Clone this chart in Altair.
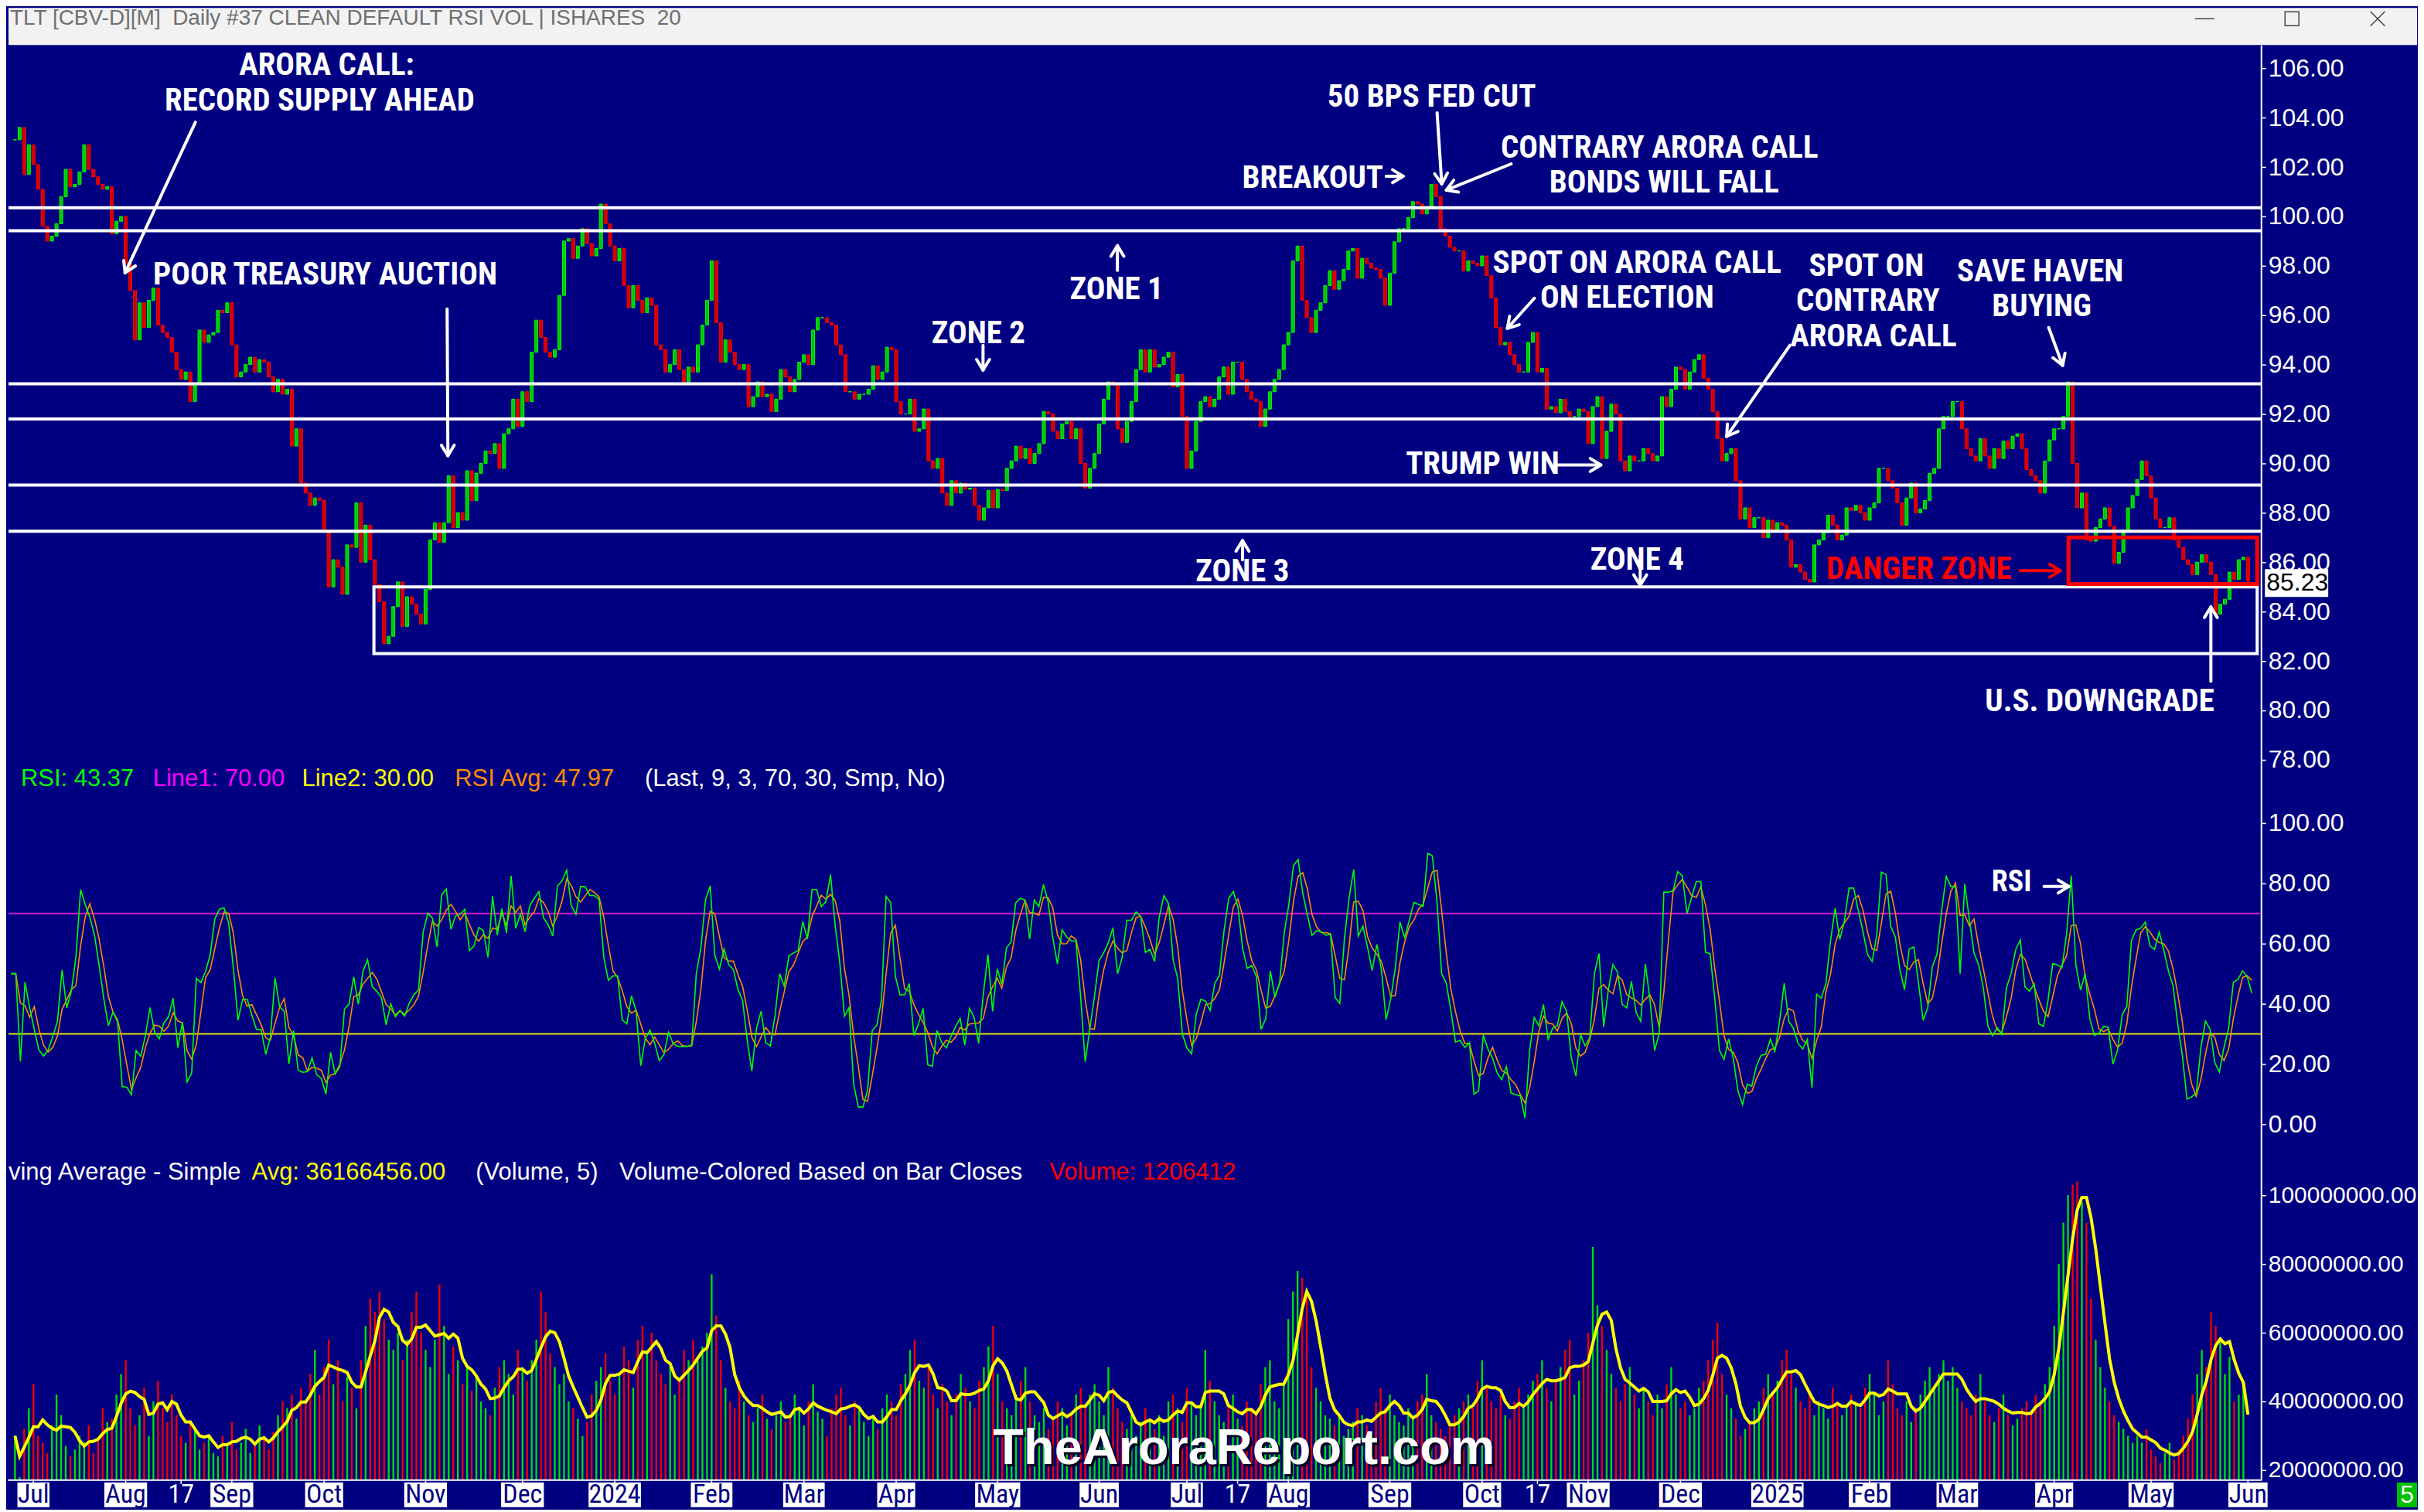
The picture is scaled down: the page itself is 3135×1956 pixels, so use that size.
import math
import numpy as np
import pandas as pd
import altair as alt

# ---------------- data ----------------
# daily closes, Jun 30 2023 .. Jun 5 2025
closes_2023 = [
    103.1, 103.6, 101.7, 102.9, 102.1, 101.1, 99.6, 99.0, 99.2, 99.7,
    100.8, 101.9, 101.2, 101.3, 101.8, 102.9, 101.9, 101.6, 101.3, 101.1,
    101.2, 99.3, 99.8, 100.0, 98.1, 97.0, 95.0, 96.5, 95.5, 96.6,
    97.1, 95.6, 95.3, 95.1, 94.5, 93.8, 93.4, 93.7, 92.5, 93.2,
    95.4, 94.9, 95.2, 95.3, 96.2, 96.1, 96.5, 94.8, 93.5, 93.7,
    94.0, 94.3, 93.7, 94.2, 94.1, 93.5, 92.9, 93.4, 92.8, 93.0,
    90.7, 91.4, 89.2, 88.8, 88.3, 88.6, 88.5, 87.3, 85.0, 86.1,
    85.8, 84.7, 86.7, 86.6, 88.4, 86.0, 87.5, 86.1, 85.1, 84.4,
    82.7, 83.0, 84.2, 85.2, 83.4, 84.6, 84.3, 83.9, 83.5, 84.9,
    86.9, 87.6, 86.8, 87.6, 89.5, 87.4, 88.0, 87.7, 89.7, 88.5,
    89.6, 90.0, 90.5, 90.4, 90.8, 89.8, 91.2, 91.4, 92.6, 91.5,
    92.9, 92.5, 94.5, 95.8, 95.1, 94.5, 94.3, 94.6, 96.8, 99.0,
    99.1, 98.3, 98.8, 99.5, 98.9, 98.4, 98.7, 100.5, 99.7, 98.8,
    98.2, 98.7, 97.2, 96.3, 97.2, 96.6, 96.1, 96.7, 96.4, 94.8,
    94.6, 93.7, 94.0, 94.6, 93.8, 93.3, 93.9, 93.7, 94.8, 95.6,
    96.6, 98.2]
closes_2024 = [
    95.7, 94.1, 95.0, 94.5, 94.0, 93.8, 94.0, 92.3, 92.7, 93.3,
    92.7, 92.8, 92.1, 92.6, 93.8, 93.5, 92.9, 93.4, 94.1, 94.4,
    94.0, 95.4, 95.9, 95.9, 95.7, 95.6, 94.8, 94.4, 92.9, 92.9,
    92.6, 92.8, 92.8, 93.0, 93.95, 93.4, 93.7, 94.7, 94.6, 92.5,
    92.0, 92.0, 92.6, 91.3, 91.4, 92.2, 90.1, 89.8, 90.2, 88.8,
    88.3, 89.3, 88.8, 89.2, 88.95, 89.0, 88.3, 87.7, 88.2, 88.9,
    88.2, 88.95, 88.9, 89.8, 90.1, 90.7, 90.2, 90.6, 90.0, 90.4,
    90.8, 92.1, 92.0, 91.3, 91.0, 91.6, 91.7, 91.0, 91.4, 90.0,
    89.0, 89.8, 90.4, 91.6, 92.6, 93.3, 93.2, 91.4, 90.85, 91.7,
    92.5, 93.8, 94.6, 93.7, 94.6, 93.9, 94.0, 94.3, 94.5, 93.1,
    93.6, 91.9, 89.8, 90.5, 91.7, 92.5, 92.7, 92.3, 92.6, 93.5,
    93.9, 92.8, 94.1, 94.1, 93.4, 92.9, 92.6, 92.5, 91.5, 92.2,
    92.9, 93.4, 93.8, 94.8, 95.3, 98.2, 98.8, 96.6, 95.9, 95.3,
    96.2, 96.5, 97.2, 97.8, 97.05, 97.4, 97.85, 98.6, 98.7, 97.5,
    98.3, 98.1, 97.9, 97.85, 97.5, 96.4, 97.7, 98.97, 99.5, 99.5,
    99.95, 100.6, 100.5, 100.1, 100.4, 101.3, 100.8, 99.5, 99.2, 98.75,
    98.6, 98.6, 97.8]
closes_2025 = [
    98.2, 98.1, 98.0, 98.4, 97.6, 96.7, 95.5, 94.8, 94.9, 94.4,
    94.0, 93.7, 93.7, 94.9, 95.3, 93.7, 93.85, 92.2, 92.3, 92.05,
    92.6, 92.1, 91.9, 91.9, 92.2, 92.1, 90.8, 92.3, 92.7, 90.2,
    91.3, 92.4, 92.0, 90.1, 89.7, 90.3, 90.1, 90.1, 90.6, 90.4,
    90.1, 90.3, 92.7, 92.3, 93.0, 93.9, 93.8, 93.0, 93.7, 94.2,
    94.4, 93.45, 93.0, 92.1, 91.0, 90.1, 90.4, 90.6, 89.3, 87.75,
    88.2, 87.4, 87.8, 87.8, 87.0, 87.7, 87.3, 87.6, 87.5, 86.9,
    85.8, 85.9, 85.6, 85.3, 85.2, 86.7, 86.9, 87.2, 87.9, 87.5,
    86.9, 87.1, 88.2, 88.1, 88.3, 88.0, 87.7, 88.2, 88.4, 89.8,
    89.8, 89.3, 89.0, 88.4, 87.5, 88.6, 89.2, 88.0, 88.15, 88.5,
    89.6, 89.8, 91.4, 91.9, 91.9, 92.5, 92.5, 91.4, 90.6, 90.3,
    90.1, 91.0, 90.3, 89.8, 90.6, 90.2, 90.9, 90.6, 91.1, 91.2,
    90.6, 89.75, 89.5, 89.3, 88.8, 90.1, 90.95, 91.4, 91.4, 91.9,
    93.3, 90.0, 88.2, 88.8, 86.9, 86.85, 87.4, 87.75, 88.2, 87.45,
    85.95, 86.4, 87.3, 88.2, 88.7, 89.35, 90.1, 89.5, 88.6, 87.75,
    87.4, 87.4, 87.8, 86.9, 86.6, 86.1, 85.9, 85.5, 86.0, 86.3,
    86.0, 85.5, 83.9, 84.3, 84.5, 85.6, 85.3, 86.1, 86.2, 85.23]

# daily volume in millions, one list per month
vol_jun23 = [30]
vol_jul23 = [18, 32, 38, 45, 30, 28, 25, 33, 42, 36, 27, 24, 26, 30, 28, 33, 25, 29, 38, 34]
vol_aug23 = [35, 42, 48, 52, 38, 33, 36, 44, 30, 40, 46, 38, 34, 42, 36, 30, 28, 34, 32, 26, 28, 30, 25]
vol_sep23 = [24, 30, 28, 34, 26, 28, 32, 25, 27, 33, 30, 26, 31, 36, 40, 38, 42, 35, 44, 40]
vol_oct23 = [48, 55, 42, 50, 58, 45, 52, 40, 47, 44, 38, 52, 62, 70, 66, 72, 64, 58, 55, 60, 52, 58]
vol_nov23 = [66, 72, 60, 55, 50, 58, 74, 62, 48, 56, 52, 45, 50, 43, 47, 40, 38, 36, 44, 50, 52]
vol_dec23 = [48, 42, 55, 50, 46, 52, 58, 72, 66, 54, 50, 45, 48, 40, 38, 35, 30, 34, 42, 46]
vol_jan24 = [50, 54, 46, 42, 48, 56, 52, 44, 58, 62, 55, 60, 52, 48, 45, 50, 42, 46, 55, 52, 58]
vol_feb24 = [52, 56, 60, 77, 65, 52, 44, 40, 38, 46, 40, 36, 34, 38, 42, 35, 32, 36, 40, 34]
vol_mar24 = [36, 42, 38, 33, 40, 45, 37, 35, 30, 38, 42, 44, 36, 33, 40, 38, 34, 30, 36, 32]
vol_apr24 = [38, 42, 40, 36, 45, 48, 55, 58, 46, 44, 50, 42, 38, 45, 40, 36, 42, 48, 44, 40, 38, 46]
vol_may24 = [50, 56, 62, 48, 40, 38, 36, 42, 46, 50, 40, 36, 34, 38, 32, 35, 40, 38, 33, 36, 42, 44]
vol_jun24 = [38, 42, 45, 40, 36, 50, 44, 38, 34, 32, 36, 30, 34, 38, 35, 32, 36, 30, 40]
vol_jul24 = [42, 38, 34, 44, 40, 36, 38, 55, 46, 40, 36, 34, 38, 42, 35, 33, 40, 38, 36, 45, 50, 52]
vol_aug24 = [40, 38, 45, 64, 72, 78, 76, 70, 50, 44, 40, 36, 35, 33, 36, 30, 32, 34, 38, 36, 33, 30]
vol_sep24 = [40, 44, 38, 42, 36, 34, 33, 38, 35, 40, 42, 48, 36, 34, 32, 30, 34, 36, 38, 40]
vol_oct24 = [42, 38, 46, 52, 44, 40, 38, 42, 36, 35, 40, 44, 38, 42, 46, 48, 52, 44, 40, 46, 50, 55, 58]
vol_nov24 = [42, 46, 52, 60, 85, 68, 62, 55, 48, 44, 40, 45, 50, 42, 38, 44, 40, 36, 42, 38]
vol_dec24 = [45, 50, 42, 38, 40, 36, 38, 44, 46, 52, 58, 63, 48, 42, 38, 35, 30, 32, 34, 38, 40]
vol_jan25 = [44, 48, 42, 46, 52, 55, 48, 44, 40, 38, 42, 36, 40, 38, 35, 44, 40, 36, 38, 42]
vol_feb25 = [40, 38, 44, 48, 42, 36, 40, 52, 45, 38, 36, 40, 34, 38, 42, 46, 50, 44, 48]
vol_mar25 = [52, 46, 50, 44, 40, 38, 36, 42, 48, 40, 36, 34, 38, 42, 36, 33, 35, 38, 40, 37, 42]
vol_apr25 = [40, 45, 50, 62, 80, 92, 100, 103, 104, 98, 92, 70, 58, 50, 44, 40, 36, 34, 32, 30, 28]
vol_may25 = [30, 28, 32, 26, 24, 22, 25, 28, 23, 26, 30, 35, 42, 48, 55, 50, 66, 62, 58, 48, 53]
vol_jun25 = [40, 42, 44.6, 1.206412]

zone_lines = [100.35, 99.42, 93.22, 91.80, 89.12, 87.25]
zone4_start_bar, zone4_top, zone4_bottom = 77.8, 85.0, 82.3
danger_start_bar, danger_top, danger_bottom = 445.1, 87.0, 85.12
rsi_upper, rsi_lower = 70, 30

price_ticks = list(range(78, 107, 2))
rsi_ticks = [0, 20, 40, 60, 80, 100]
vol_ticks_m = [20, 40, 60, 80, 100]

x_labels = ["Jul", "Aug", "17", "Sep", "Oct", "Nov", "Dec", "2024", "Feb", "Mar", "Apr", "May", "Jun",
            "Jul", "17", "Aug", "Sep", "Oct", "17", "Nov", "Dec", "2025", "Feb", "Mar", "Apr", "May", "Jun"]
x_label_bars = [1, 21, 33, 44, 64, 86, 107, 127, 148, 168, 188, 210, 232,
                251, 262, 273, 295, 315, 327, 338, 358, 379, 399, 418, 439, 460, 481]

# ---------------- derived table ----------------
closes = closes_2023 + closes_2024 + closes_2025
vols = (vol_jun23 + vol_jul23 + vol_aug23 + vol_sep23 + vol_oct23 + vol_nov23 + vol_dec23 +
        vol_jan24 + vol_feb24 + vol_mar24 + vol_apr24 + vol_may24 + vol_jun24 + vol_jul24 +
        vol_aug24 + vol_sep24 + vol_oct24 + vol_nov24 + vol_dec24 + vol_jan25 + vol_feb25 +
        vol_mar25 + vol_apr25 + vol_may25 + vol_jun25)
N = min(len(closes), len(vols))
df = pd.DataFrame({"k": np.arange(N), "close": closes[:N], "vol": vols[:N]})
df["open"] = df["close"].shift(1).fillna(df["close"])
df["dir"] = np.where(df["close"] >= df["open"], "up", "down")
delta = df["close"].diff()
# RSI(9) with simple averages, RSI average = 3-bar simple mean
ag = delta.clip(lower=0).rolling(9, min_periods=1).mean()
al = (-delta).clip(lower=0).rolling(9, min_periods=1).mean()
rs = ag / al.replace(0, np.nan)
df["rsi"] = (100 - 100 / (1 + rs)).fillna(50)
df["rsia"] = df["rsi"].rolling(3, min_periods=1).mean()
df["vma"] = df["vol"].rolling(5, min_periods=1).mean()

# ---------------- layout constants ----------------
NAVY = "#000080"
SANS = "Liberation Sans, Arial, sans-serif"
NARROW = ("'Liberation Sans Narrow', 'Arial Narrow', 'Roboto Condensed', 'DejaVu Sans Condensed', "
          "'Noto Sans Condensed', 'Open Sans Condensed', sans-serif")
W = 2917
H_TOP, H_PRICE, H_RSI, H_VOL = 48, 932, 508, 419
DX = 5.995
LAST = N - 1
XMAX = LAST + 12 / DX
XMIN = XMAX - W / DX
xs = alt.Scale(domain=[XMIN, XMAX], nice=False, zero=False)
XK = alt.X("k:Q", scale=xs, axis=None)
ONE = pd.DataFrame({"a": [0]})
NB = "\u00a0"


def axis_right(values, size=32, expr=None):
    kw = dict(orient="right", values=values, title=None, grid=False, labelColor="white",
              labelFont=SANS, labelFontSize=size, tickColor="white", tickSize=6, tickWidth=1.5,
              domainColor="white", domainWidth=2, labelPadding=3, labelOverlap=False, labelFlush=False,
              labelLimit=400)
    if expr:
        kw["labelExpr"] = expr
    else:
        kw["format"] = ".2f"
    return alt.Axis(**kw)


def tx(text, x, y, size=41, color="white", font=NARROW, weight="bold", align="center", baseline="alphabetic"):
    return alt.Chart(ONE).mark_text(text=text, font=font, fontSize=size, fontWeight=weight, color=color,
                                    align=align, baseline=baseline).encode(x=alt.value(x), y=alt.value(y))


def seg(x1, y1, x2, y2, color="white", w=4):
    return alt.Chart(ONE).mark_rule(color=color, strokeWidth=w, strokeCap="round").encode(
        x=alt.value(x1), y=alt.value(y1), x2=alt.value(x2), y2=alt.value(y2))


def arrow(x1, y1, x2, y2, color="white", w=4, head=16):
    a = math.atan2(y2 - y1, x2 - x1)
    out = [seg(x1, y1, x2, y2, color, w)]
    for s in (-0.55, 0.55):
        out.append(seg(x2, y2, x2 - head * math.cos(a + s), y2 - head * math.sin(a + s), color, w))
    return out


# ---------------- title bar ----------------
title_text = ("TLT [CBV-D][M]" + NB + NB + "Daily #37 CLEAN DEFAULT RSI VOL | ISHARES" + NB + NB + "20")
top_layers = [
    alt.Chart(ONE).mark_rect(color="#f2f2f2").encode(x=alt.value(0), x2=alt.value(3119), y=alt.value(0), y2=alt.value(H_TOP)),
    tx(title_text, 2, 14, size=28, color="#6f6f6f", font=SANS, weight="normal", align="left", baseline="middle"),
    seg(2832, 14, 2856, 14, "#444444", 1.5),
    alt.Chart(ONE).mark_rect(filled=False, stroke="#444444", strokeWidth=1.5).encode(
        x=alt.value(2948), x2=alt.value(2966), y=alt.value(5), y2=alt.value(23)),
    seg(3059, 5, 3077, 23, "#444444", 1.5),
    seg(3059, 23, 3077, 5, "#444444", 1.5),
]
top = alt.layer(*top_layers).properties(width=W, height=H_TOP)

# ---------------- price panel ----------------
ys_p = alt.Scale(domain=[77.81, 106.94], nice=False, zero=False)
ax_p = axis_right(price_ticks)
fill_dir = alt.Fill("dir:N", scale=alt.Scale(domain=["up", "down"], range=["#00c800", "#d00000"]), legend=None)
stroke_dir = alt.Stroke("dir:N", scale=alt.Scale(domain=["up", "down"], range=["#00ff00", "#ff0000"]), legend=None)

candles = alt.Chart(df).mark_bar(size=4, strokeWidth=1).encode(
    x=XK, y=alt.Y("open:Q", scale=ys_p, axis=ax_p), y2="close:Q", fill=fill_dir, stroke=stroke_dir)
levels = alt.Chart(pd.DataFrame({"level": zone_lines})).mark_rule(color="white", strokeWidth=4).encode(
    y=alt.Y("level:Q", scale=ys_p, axis=ax_p))
box4 = alt.Chart(pd.DataFrame({"x1": [zone4_start_bar], "x2": [XMAX], "t": [zone4_top], "b": [zone4_bottom]})).mark_rect(
    filled=False, stroke="white", strokeWidth=4).encode(
    x=alt.X("x1:Q", scale=xs, axis=None), x2="x2:Q", y=alt.Y("t:Q", scale=ys_p, axis=ax_p), y2="b:Q")
danger = alt.Chart(pd.DataFrame({"x1": [danger_start_bar], "x2": [XMAX], "t": [danger_top], "b": [danger_bottom]})).mark_rect(
    filled=False, stroke="#ff0000", strokeWidth=5).encode(
    x=alt.X("x1:Q", scale=xs, axis=None), x2="x2:Q", y=alt.Y("t:Q", scale=ys_p, axis=ax_p), y2="b:Q")

P = lambda x, y: (x - 8, y - 56)
price_texts = [
    ("ARORA CALL:", 420, 80), ("RECORD SUPPLY AHEAD", 411, 126), ("POOR TREASURY AUCTION", 418, 351),
    ("ZONE 1", 1443, 370), ("ZONE 2", 1264, 427), ("ZONE 3", 1606, 736), ("ZONE 4", 2117, 721),
    ("BREAKOUT", 1697, 226), ("50 BPS FED CUT", 1851, 121), ("CONTRARY ARORA CALL", 2146, 187),
    ("BONDS WILL FALL", 2152, 232), ("SPOT ON ARORA CALL", 2117, 336), ("ON ELECTION", 2104, 381),
    ("SPOT ON", 2414, 340), ("CONTRARY", 2416, 385), ("ARORA CALL", 2423, 431),
    ("SAVE HAVEN", 2639, 347), ("BUYING", 2641, 392), ("TRUMP WIN", 1917, 597),
    ("U.S. DOWNGRADE", 2716, 904),
]
price_arrows = [
    (250, 156, 159, 351), (576, 398, 577, 588), (1444, 348, 1444, 316), (1270, 445, 1270, 477),
    (1606, 723, 1606, 698), (2121, 718, 2121, 756), (1792, 226, 1814, 226), (1858, 144, 1864, 236),
    (1954, 210, 1870, 244), (1984, 384, 1949, 423), (2315, 445, 2233, 563), (2650, 422, 2668, 471),
    (2013, 600, 2070, 600), (2860, 880, 2860, 784),
]
price_layers = [candles, levels, box4, danger]
for t, x, y in price_texts:
    lx, ly = P(x, y)
    price_layers.append(tx(t, lx, ly + 15))
lx, ly = P(2482, 733)
price_layers.append(tx("DANGER ZONE", lx, ly + 15, color="#ff0000"))
for x1, y1, x2, y2 in price_arrows:
    a1, b1 = P(x1, y1)
    a2, b2 = P(x2, y2)
    price_layers += arrow(a1, b1, a2, b2)
a1, b1 = P(2613, 737)
a2, b2 = P(2665, 737)
price_layers += arrow(a1, b1, a2, b2, color="#ff0000")
# last price tag
price_layers.append(alt.Chart(ONE).mark_rect(color="white").encode(
    x=alt.value(2922), x2=alt.value(3004), y=alt.value(679), y2=alt.value(715)))
price_layers.append(tx("85.23", 2924, 697, size=32, color="black", font=SANS, weight="normal",
                       align="left", baseline="middle"))
price = alt.layer(*price_layers).properties(width=W, height=H_PRICE)

# ---------------- RSI panel ----------------
ys_r = alt.Scale(domain=[-10.77, 119.49], nice=False, zero=False)
ax_r = axis_right(rsi_ticks)
rsi_layers = [
    alt.Chart(pd.DataFrame({"v": [rsi_upper]})).mark_rule(color="#c81ec8", strokeWidth=2).encode(
        y=alt.Y("v:Q", scale=ys_r, axis=ax_r)),
    alt.Chart(pd.DataFrame({"v": [rsi_lower]})).mark_rule(color="#e6e600", strokeWidth=2).encode(
        y=alt.Y("v:Q", scale=ys_r, axis=ax_r)),
    alt.Chart(df).mark_line(color="#ff8c00", strokeWidth=1.6, clip=True).encode(
        x=XK, y=alt.Y("rsia:Q", scale=ys_r, axis=ax_r)),
    alt.Chart(df).mark_line(color="#00ff00", strokeWidth=1.6, clip=True).encode(
        x=XK, y=alt.Y("rsi:Q", scale=ys_r, axis=ax_r)),
]
hdr_r = [("RSI: 43.37", 16, "#00ff00"), ("Line1: 70.00", 187, "#ff00ff"), ("Line2: 30.00", 380, "#ffff00"),
         ("RSI Avg: 47.97", 578, "#ff8c00"), ("(Last, 9, 3, 70, 30, Smp, No)", 824, "white")]
for t, x, c in hdr_r:
    rsi_layers.append(tx(t, x, 19, size=31, color=c, font=SANS, weight="normal", align="left", baseline="middle"))
rsi_layers.append(tx("RSI", 2594, 164, size=38))
rsi_layers += arrow(2636, 158, 2668, 158)
rsi = alt.layer(*rsi_layers).properties(width=W, height=H_RSI)

# ---------------- volume panel ----------------
ys_v = alt.Scale(domain=[17.08, 111.24], nice=False, zero=False)
ax_v = axis_right(vol_ticks_m, size=30, expr="format(datum.value * 1000000, '.2f')")
vol_layers = [
    alt.Chart(df).mark_bar(size=2.4, clip=True).encode(
        x=XK, y=alt.Y("vol:Q", scale=ys_v, axis=ax_v),
        color=alt.Color("dir:N", scale=alt.Scale(domain=["up", "down"], range=["#00dd00", "#ee0000"]), legend=None)),
    alt.Chart(df).mark_line(color="#ffff00", strokeWidth=4, clip=True).encode(
        x=XK, y=alt.Y("vma:Q", scale=ys_v, axis=ax_v)),
]
hdr_v = [("ving Average - Simple", 0, "white"), ("Avg: 36166456.00", 315, "#ffff00"), ("(Volume, 5)", 605, "white"),
         ("Volume-Colored Based on Bar Closes", 791, "white"), ("Volume: 1206412", 1348, "#ff0000")]
for t, x, c in hdr_v:
    vol_layers.append(tx(t, x, 21, size=31, color=c, font=SANS, weight="normal", align="left", baseline="middle"))
vol_layers.append(tx("TheAroraReport.com", 1603, 401, size=65, color="#000020", font=SANS))
vol_layers.append(tx("TheAroraReport.com", 1600, 398, size=65, color="white", font=SANS))
vol_layers.append(seg(0, H_VOL, W, H_VOL, "white", 2))

# x-axis labels with white boxes
cw = {'J': .5, 'u': .556, 'l': .222, 'A': .667, 'g': .556, 'S': .667, 'e': .556, 'p': .556, 'O': .778,
      'c': .5, 't': .278, 'N': .722, 'o': .556, 'v': .5, 'D': .722, 'F': .611, 'b': .556, 'M': .833,
      'a': .556, 'r': .333, 'y': .5, 'n': .556}
LFS = 34
lab = pd.DataFrame({"text": x_labels, "bar": x_label_bars})
lab["pos"] = lab["bar"] + 3
lab["wpx"] = [sum(cw.get(ch, .556) for ch in t) * 0.82 * LFS + 6 for t in x_labels]
lab["x1"] = lab["pos"] - lab["wpx"] / 2 / DX
lab["x2"] = lab["pos"] + lab["wpx"] / 2 / DX
boxed = lab[lab["text"] != "17"]
plain = lab[lab["text"] == "17"]
vol_layers += [
    alt.Chart(lab).mark_rule(color="white", strokeWidth=1.5).encode(
        x=alt.X("pos:Q", scale=xs, axis=None), y=alt.value(H_VOL), y2=alt.value(H_VOL + 5)),
    alt.Chart(boxed).mark_rect(color="white").encode(
        x=alt.X("x1:Q", scale=xs, axis=None), x2="x2:Q", y=alt.value(H_VOL + 3), y2=alt.value(H_VOL + 35)),
    alt.Chart(boxed).mark_text(font=NARROW, fontSize=LFS, color=NAVY, baseline="middle").encode(
        x=alt.X("pos:Q", scale=xs, axis=None), y=alt.value(H_VOL + 19), text="text:N"),
    alt.Chart(plain).mark_text(font=NARROW, fontSize=LFS, color="white", baseline="middle").encode(
        x=alt.X("pos:Q", scale=xs, axis=None), y=alt.value(H_VOL + 19), text="text:N"),
    alt.Chart(ONE).mark_rect(color="#00c000").encode(
        x=alt.value(3093), x2=alt.value(3119), y=alt.value(H_VOL + 3), y2=alt.value(H_VOL + 35)),
    tx("5", 3106, H_VOL + 19, size=32, color="white", font=SANS, weight="normal", baseline="middle"),
]
vol = alt.layer(*vol_layers).properties(width=W, height=H_VOL)

chart = alt.vconcat(top, price, rsi, vol, spacing=0, bounds="flush").properties(
    padding={"left": 0, "top": 0, "right": 0, "bottom": 0}
).configure(background=NAVY).configure_view(stroke="transparent")

chart.save("out.html", embed_options={"renderer": "svg", "actions": False})
